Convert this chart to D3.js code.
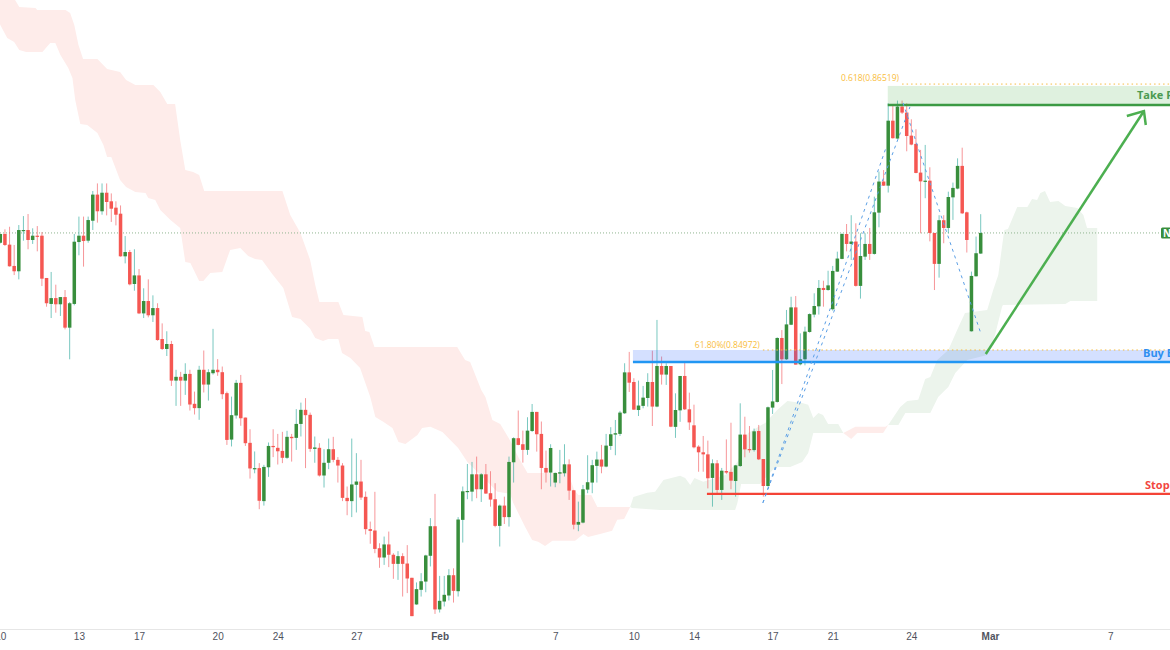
<!DOCTYPE html>
<html><head><meta charset="utf-8">
<script src="https://cdn.jsdelivr.net/npm/d3@7"></script>
<style>html,body{margin:0;padding:0;background:#fff;overflow:hidden}svg{display:block}</style>
</head><body><svg id="c" width="1170" height="650"></svg>
<script>
// prices in points (1 = 0.00001); x positions are bar numbers
const opens=[85596,85647,85585,85461,85430,85666,85670,85612,85637,85637,
85391,85240,85274,85238,85280,85102,85240,85600,85637,85608,
85724,85876,85779,85887,85837,85800,85765,85517,85542,85356,
85406,85185,85257,85174,85216,85036,84978,85007,84794,84816,
84794,84833,84659,84634,84857,84771,84837,84857,84843,84721,
84451,84591,84781,84579,84432,84281,84285,84093,84290,84414,
84403,84385,84345,84467,84461,84542,84624,84595,84397,84403,
84242,84316,84395,84333,84300,84112,84093,84188,84207,84118,
83930,83922,83819,83765,83841,83781,83728,83773,83730,83647,
83492,83577,83625,83775,83947,83463,83509,83544,83662,83569,
83984,84148,84148,84249,84162,84249,84139,84104,83949,84067,
84000,84319,84459,84424,84391,84501,84612,84484,84286,84259,
84201,84253,84255,84307,84156,83956,83968,84160,84201,84298,
84335,84294,84414,84480,84484,84604,84842,84786,84623,84647,
84693,84786,84643,84879,84829,84879,84525,84621,84821,84627,
84534,84410,84377,84365,84228,84313,84158,84268,84263,84210,
84297,84480,84396,84390,84501,84338,84181,84637,84670,85042,
84918,85119,85220,84889,84918,85077,85178,85226,85333,85321,
85209,85428,85502,85647,85589,85603,85345,85515,85589,85531,
85771,85952,85928,86306,86202,86388,86353,86219,86171,86004,
85953,85957,85653,85473,85727,85682,85860,85911,86043,85773,
85081,85401,85533];
const highs=[85647,85674,85689,85583,85699,85751,85763,85680,85693,85658,
85391,85426,85352,85280,85321,85251,85647,85748,85748,85748,
85897,85941,85941,85941,85883,85837,85813,85635,85554,85558,
85443,85331,85383,85290,85244,85127,85081,85025,84857,84845,
84895,84857,84730,84880,84969,84860,85095,84919,84876,84730,
84701,84798,84827,84579,84511,84382,84314,84304,84434,84511,
84484,84496,84502,84484,84628,84666,84692,84608,84469,84430,
84395,84457,84467,84349,84314,84178,84457,84372,84333,84149,
83974,84147,83848,83887,83916,83790,83802,83790,83837,83647,
83620,83674,83781,83994,84135,83658,83658,83697,83702,84000,
84178,84309,84321,84352,84255,84309,84267,84197,84073,84119,
84352,84464,84620,84503,84581,84658,84612,84556,84387,84424,
84259,84391,84424,84336,84158,84090,84187,84360,84333,84381,
84420,84484,84523,84565,84618,84895,84961,84808,84794,84763,
84837,84968,85147,84934,84895,84879,84720,84821,84898,84724,
84654,84418,84472,84445,84336,84332,84286,84452,84549,84303,
84662,84584,84530,84515,84536,84338,84643,84856,85046,85088,
85205,85282,85286,85069,85108,85185,85302,85379,85375,85433,
85461,85544,85651,85705,85756,85709,85651,85651,85682,85864,
86010,86019,86407,86397,86423,86423,86407,86314,86256,86136,
86165,86035,85653,85756,85756,85893,85946,86087,86149,85777,
85428,85632,85762];
const lows=[85592,85577,85457,85408,85383,85608,85558,85589,85546,85344,
85224,85158,85189,85170,85092,84918,85232,85523,85457,85596,
85670,85713,85759,85755,85717,85697,85515,85476,85348,85317,
85181,85158,85162,85135,85026,84972,84937,84763,84647,84647,
84711,84620,84597,84566,84725,84678,84829,84822,84686,84420,
84411,84573,84531,84414,84224,84255,84046,84067,84234,84349,
84306,84314,84339,84323,84391,84469,84285,84380,84316,84236,
84172,84279,84319,84201,84093,84011,84000,84027,84100,83899,
83845,83790,83705,83722,83709,83641,83635,83538,83558,83424,
83490,83538,83563,83713,83437,83445,83480,83515,83503,83538,
83852,84104,84092,84110,84088,84135,84061,83941,83829,83960,
83945,84201,84418,84317,84362,84495,84381,84162,84201,84178,
84174,84197,84236,84100,83929,83918,83964,84139,84139,84201,
84255,84290,84391,84360,84472,84600,84728,84623,84588,84633,
84643,84530,84639,84771,84769,84523,84461,84554,84623,84507,
84400,84264,84264,84167,84061,84138,84100,84251,84162,84119,
84293,84348,84375,84381,84332,84119,84177,84600,84666,84774,
84914,85117,84887,84883,84883,85073,85162,85178,85224,85317,
85201,85426,85500,85546,85496,85341,85271,85496,85496,85527,
85686,85926,85888,86202,86200,86345,86128,86163,86000,85651,
85855,85604,85321,85393,85593,85651,85729,85907,85763,85539,
85079,85399,85531];
const closes=[85647,85583,85459,85430,85670,85670,85612,85637,85633,85387,
85244,85274,85238,85280,85102,85244,85602,85637,85606,85728,
85876,85779,85887,85833,85794,85759,85517,85542,85354,85406,
85185,85257,85174,85216,85030,84978,85007,84794,84816,84794,
84833,84655,84634,84857,84771,84843,84857,84843,84715,84449,
84593,84781,84575,84430,84283,84285,84095,84292,84414,84411,
84383,84345,84467,84459,84542,84624,84593,84397,84405,84242,
84316,84395,84333,84300,84112,84093,84190,84207,84114,83930,
83920,83815,83765,83841,83781,83728,83773,83728,83643,83424,
83581,83627,83777,83947,83463,83513,83548,83662,83571,83986,
84150,84152,84249,84162,84249,84137,84102,83949,84067,84000,
84321,84459,84420,84391,84503,84612,84482,84286,84259,84402,
84257,84261,84307,84154,83956,83972,84162,84203,84302,84335,
84294,84416,84482,84488,84608,84842,84782,84625,84649,84695,
84786,84643,84879,84829,84879,84526,84623,84821,84627,84551,
84406,84377,84365,84226,84313,84158,84270,84259,84212,84301,
84480,84394,84389,84499,84336,84181,84639,84673,85042,84918,
85121,85220,84887,84918,85079,85181,85228,85333,85321,85348,
85432,85504,85647,85589,85603,85345,85519,85589,85531,85773,
85952,85928,86306,86204,86388,86353,86217,86167,86002,85953,
85957,85653,85473,85727,85682,85862,85915,86043,85767,85612,
85403,85535,85653];

const tickBars=[0,17,30,47,60,77,95,120,137,150,167,180,197,214,240];
const tickLabels=["10","13","17","20","24","27","Feb","7","10","14","17","21","24","Mar","7"];

// Ichimoku cloud outlines as [bar, price]
const pinkTop=[[-1.1,87100],[2.8,87100],[2.8,87037],[3.2,87008],[4.1,86967],[7.6,86961],[8,86950],[14.1,86950],[15.1,86932],[16,86863],[16.9,86746],[17.9,86665],[21,86665],[23.1,86607],[25.9,86589],[27.2,86543],[29.2,86514],[33.1,86514],[34.6,86473],[36.1,86403],[37.8,86403],[38.9,86194],[40,86019],[41.7,86008],[43,85990],[44.1,85897],[61,85897],[62.7,85758],[64.9,85653],[67,85496],[68.1,85350],[69,85252],[73.1,85252],[74.2,85176],[78.3,85164],[78.9,85083],[79.8,85077],[80.9,84990],[98.8,84990],[100.5,84914],[101.6,84903],[104,84740],[104.9,84699],[106.4,84565],[108.1,84542],[110.3,84443],[112,84350],[114,84257],[122.8,84257],[124.1,84158],[125,84129],[127.8,84129],[129.1,84059],[136.2,84059]];
const pinkBottom=[[-1.1,86950],[0,86863],[1.5,86787],[3,86764],[4.1,86717],[5.6,86706],[9.1,86706],[10.8,86758],[11.9,86758],[13,86688],[14.7,86612],[15.6,86554],[16.2,86426],[17.3,86287],[18.8,86281],[21,86235],[22.3,86165],[23.1,86095],[24,86095],[25.9,85961],[27.2,85920],[29.2,85891],[31.4,85885],[32,85856],[33.5,85845],[34.6,85787],[36.8,85728],[38.9,85682],[40,85484],[41.1,85478],[43,85374],[43.9,85374],[45.4,85420],[48,85426],[49.7,85554],[51.9,85566],[53.6,85519],[55.1,85502],[56.6,85496],[58.8,85414],[61.2,85333],[63.1,85164],[64.9,85153],[67,85095],[68.1,85042],[69.8,85025],[70.9,85036],[73.1,85036],[73.9,84955],[75.7,84926],[77.8,84868],[80,84699],[81.1,84583],[82.8,84554],[84.8,84519],[86.1,84437],[87.6,84426],[90.2,84478],[91.2,84519],[93,84525],[95.6,84495],[97.3,84449],[99,84402],[101,84321],[107.5,84147],[110.3,84135],[110.9,84083],[113.5,83943],[115,83867],[116.3,83856],[117.8,83832],[119.4,83862],[124.3,83862],[126.1,83902],[127.1,83885],[129.7,83902],[132.3,83920],[133.4,83984],[134.9,83989],[136.2,84059]];
const greenTopA=[[136.2,84059],[136.9,84117],[139.9,84141],[141.6,84147],[143.4,84216],[147,84240],[148.1,84228],[149.2,84187],[150.1,84228],[152,84205],[156.8,84245],[159.4,84321],[161.7,84490],[165.4,84548],[168,84623],[170.2,84676],[173.4,84664],[174.7,84653],[175.8,84577],[176.9,84606],[177.9,84594],[179,84542],[181.2,84542],[182.3,84490]];
const greenBottomA=[[136.2,84059],[136.6,84053],[142.7,84042],[158.9,84042],[159.4,84083],[160.2,84193],[164.3,84193],[167.6,84292],[170.8,84292],[173.4,84321],[174.7,84373],[175.8,84490],[182.3,84490]];
const pinkSmallTop=[[182.3,84490],[184.9,84525],[191.4,84525],[192,84536]];
const pinkSmallBottom=[[182.3,84490],[184,84455],[185.3,84490],[190.9,84490],[192,84536]];
const greenTopB=[[192,84536],[194.6,84641],[196.1,84676],[198.5,84682],[200,84804],[201.1,84815],[202.6,84914],[205,84972],[207.1,85100],[208.6,85188],[213.4,85205],[214.7,85321],[215.8,85409],[216.6,85571],[217.1,85670],[217.9,85676],[219.9,85804],[222.1,85804],[223.1,85851],[224.2,85845],[224.9,85885],[225.9,85897],[227,85833],[228.8,85839],[230.3,85810],[232.9,85798],[234.2,85758],[235,85682],[237.2,85682]];
const greenBottomB=[[192,84536],[194.2,84536],[195.7,84606],[201.1,84606],[202.8,84699],[205,84757],[206.5,84839],[209.1,84914],[213.4,84943],[215.1,85060],[216.6,85222],[216.8,85234],[230.3,85240],[231.4,85257],[237.2,85257]];

// price levels and annotation anchors
const lastPrice=85653, takeProfit=86397, takeBoxTop=86508, fibUpper=86519, fibLower=84972, entryLine=84903, stopLoss=84135;
const takeStartBar=191.9, fibUpperStartBar=195, fibLowerStartBar=164.9, entryStartBar=136.8, stopStartBar=152.8;
const fibLines=[[[164.9,84083],[191.5,86147]],[[164.9,84083],[196.7,86386]],[[195.2,86409],[212,85071]]];
const arrowLine=[[213.1,84949],[247.3,86362]];
const arrowHead=[[243.6,86333],[247.3,86362],[247.7,86281]];

const W=1170,H=650,axisY=629;
const x=d3.scaleLinear().domain([0,212]).range([0.3,980.7]);
const y=d3.scaleLinear().domain([87008,83227]).range([0,650]);
const svg=d3.select("#c");
const font="'Open Sans',sans-serif";
const line=d3.line().x(d=>x(d[0])).y(d=>y(d[1]));
const right=W+2;

const clouds=[[pinkTop,pinkBottom,"#feecea"],[greenTopA,greenBottomA,"#ecf4ec"],[pinkSmallTop,pinkSmallBottom,"#feecea"],[greenTopB,greenBottomB,"#ecf4ec"]];
svg.append("g").selectAll("path").data(clouds).join("path")
  .attr("d",d=>line(d[0].concat(d[1].slice().reverse()))+"Z").attr("fill",d=>d[2]);

// last price line
svg.append("line").attr("x1",0).attr("x2",1161).attr("y1",y(lastPrice)).attr("y2",y(lastPrice))
  .attr("stroke","#8fb48f").attr("stroke-width",1).attr("stroke-dasharray","1 2");

// candles
const bars=d3.range(opens.length);
const up=i=>closes[i]>=opens[i];
const cg=svg.append("g");
cg.selectAll("line").data(bars).join("line")
  .attr("x1",i=>x(i)).attr("x2",i=>x(i)).attr("y1",i=>y(highs[i])).attr("y2",i=>y(lows[i]))
  .attr("stroke",i=>up(i)?"#26a69a":"#f0565a").attr("stroke-opacity",0.62).attr("stroke-width",1);
cg.selectAll("rect").data(bars).join("rect")
  .attr("x",i=>x(i)-1.75).attr("width",3.5)
  .attr("y",i=>y(Math.max(opens[i],closes[i])))
  .attr("height",i=>Math.max(1.2,Math.abs(y(opens[i])-y(closes[i]))))
  .attr("fill",i=>up(i)?"#388e3c":"#f55752");

// boxes
svg.append("rect").attr("x",x(takeStartBar)).attr("width",right-x(takeStartBar)).attr("y",y(takeBoxTop)).attr("height",y(takeProfit)-y(takeBoxTop))
  .attr("fill","#4caf50").attr("fill-opacity",0.18);
svg.append("rect").attr("x",x(entryStartBar)).attr("width",right-x(entryStartBar)).attr("y",y(fibLower)).attr("height",y(entryLine)-y(fibLower))
  .attr("fill","#2962ff").attr("fill-opacity",0.2);

// horizontal levels
const levels=[[takeStartBar,takeProfit,"#3c9a44",2.5],[entryStartBar,entryLine,"#2196f3",2.5],[stopStartBar,stopLoss,"#f44336",2.2]];
svg.append("g").selectAll("line").data(levels).join("line")
  .attr("x1",d=>x(d[0])).attr("x2",right).attr("y1",d=>y(d[1])).attr("y2",d=>y(d[1]))
  .attr("stroke",d=>d[2]).attr("stroke-width",d=>d[3]);
const dots=[[fibUpperStartBar,fibUpper],[fibLowerStartBar,fibLower]];
svg.append("g").selectAll("line").data(dots).join("line")
  .attr("x1",d=>x(d[0])).attr("x2",right).attr("y1",d=>y(d[1])).attr("y2",d=>y(d[1]))
  .attr("stroke","#f5bc42").attr("stroke-width",1).attr("stroke-dasharray","1.5 3");

// dashed fib legs
svg.append("g").selectAll("path").data(fibLines).join("path").attr("d",line)
  .attr("fill","none").attr("stroke","#5b9fe6").attr("stroke-width",1).attr("stroke-dasharray","3 4");

// arrow
svg.append("g").selectAll("path").data([arrowLine,arrowHead]).join("path").attr("d",line)
  .attr("fill","none").attr("stroke","#4caf50").attr("stroke-width",2.5);

// labels
function label(t,px,py,size,color,weight,anchor){
  return svg.append("text").text(t).attr("x",px).attr("y",py).attr("font-family",font).attr("font-size",size)
    .attr("font-weight",weight).attr("fill",color).attr("text-anchor",anchor||"start");
}
label("0.618(0.86519)",x(fibUpperStartBar)-3,y(fibUpper)-3,8.5,"#f9bd3c","500","end");
label("61.80%(0.84972)",x(fibLowerStartBar)-3,y(fibLower)-2,8.5,"#f9bd3c","500","end");
label("Take Profit",1137,99,11,"#4b9a52","700");
label("Buy Entry",1143,357,11,"#2f8ff0","700");
label("Stop Loss",1145,489,11,"#f2473f","700");

svg.append("rect").attr("x",1161).attr("y",y(lastPrice)-5.5).attr("width",11).attr("height",11).attr("rx",1.5).attr("fill","#388e3c");
label("N",1163,y(lastPrice)+3.6,10,"#ffffff","700");

// axis
svg.append("rect").attr("x",0).attr("y",axisY).attr("width",W).attr("height",1).attr("fill","#e6e6e6");
const axis=d3.axisBottom(x).tickValues(tickBars).tickSize(0).tickPadding(4).tickFormat((d,i)=>tickLabels[i]);
const ag=svg.append("g").attr("transform",`translate(0,${axisY})`).call(axis);
ag.select(".domain").remove();
ag.selectAll("text").attr("font-family","'Liberation Sans',Arial,sans-serif").attr("font-size",10).attr("fill","#50535e")
  .attr("font-weight",(d,i)=>isNaN(+tickLabels[i])?"700":"400");
</script></body></html>
